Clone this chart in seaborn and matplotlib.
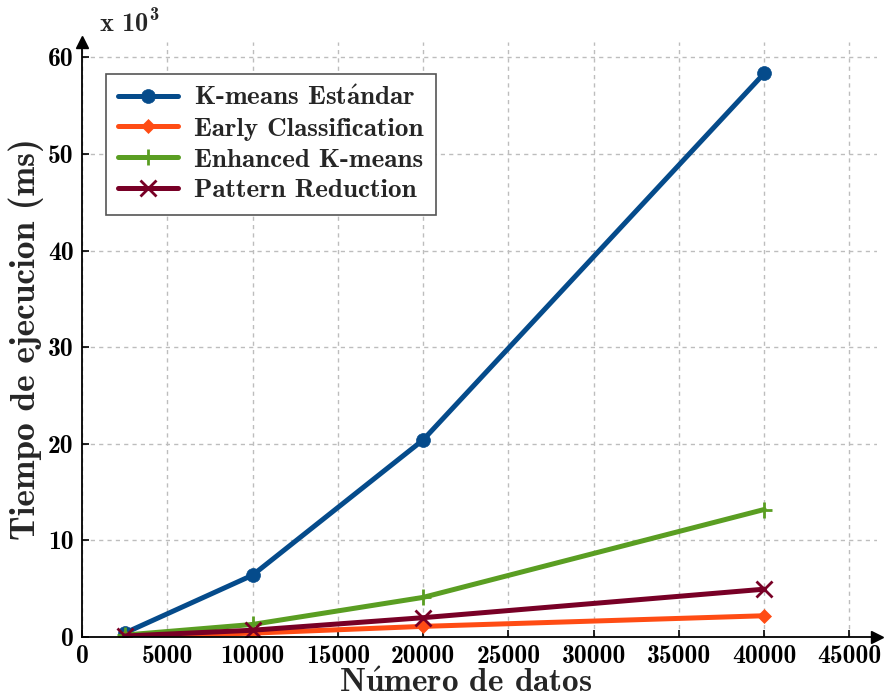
import matplotlib
matplotlib.use("Agg")
import matplotlib.pyplot as plt
import seaborn as sns
import pandas as pd

sns.set_theme(style="white")
plt.rcParams['font.family'] = ['cmb10', 'DejaVu Serif']
plt.rcParams['mathtext.fontset'] = 'custom'
plt.rcParams['mathtext.rm'] = 'cmb10'
plt.rcParams['mathtext.it'] = 'cmb10'
plt.rcParams['mathtext.bf'] = 'cmb10'
plt.rcParams['axes.unicode_minus'] = False

n_datos = [2500, 10000, 20000, 40000]
series_names = [r"K-means Est$\acute{a}$ndar", "Early Classification", "Enhanced K-means", "Pattern Reduction"]
kmeans = [0.4, 6.4, 20.4, 58.35]
early = [0.05, 0.4, 1.1, 2.2]
enhanced = [0.2, 1.3, 4.1, 13.2]
pattern = [0.1, 0.7, 2.0, 4.95]
values = [kmeans, early, enhanced, pattern]

colors = ["#054b8b", "#ff4c14", "#5a9e22", "#780026"]
markers = ["o", "D", "+", "x"]
msizes = [10, 7, 12, 11]
xticks = [0, 5000, 10000, 15000, 20000, 25000, 30000, 35000, 40000, 45000]
yticks = [0, 10, 20, 30, 40, 50, 60]

fig = plt.figure(figsize=(8.91, 7.0), dpi=100)
ax = fig.add_axes([0.092, 0.09, 0.892, 0.85])

for name, vals, c, m, ms in zip(series_names, values, colors, markers, msizes):
    df = pd.DataFrame({"x": n_datos, "y": vals})
    sns.lineplot(data=df, x="x", y="y", ax=ax, color=c, marker=m, markersize=ms,
                 linewidth=3.6, label=name, markeredgecolor=c,
                 markeredgewidth=2 if m in "+x" else 0.5)

ax.set_xlim(0, 46600)
ax.set_ylim(0, 61.6)
ax.set_xticks(xticks)
ax.set_yticks(yticks)
ax.set_xticklabels([str(t) for t in xticks], fontsize=18.5)
ax.set_yticklabels([str(t) for t in yticks], fontsize=18.5)
ax.grid(True, linestyle=(0, (3, 3)), color="#bdbdbd", linewidth=1.0)
ax.tick_params(direction="in", length=5, width=1.2, colors="black", pad=6,
               bottom=True, left=True)
for s in ["top", "right"]:
    ax.spines[s].set_visible(False)
for s in ["left", "bottom"]:
    ax.spines[s].set_color("black")
    ax.spines[s].set_linewidth(1.3)

ax.plot(1, 0, marker=">", color="black", markersize=8, transform=ax.transAxes, clip_on=False)
ax.plot(0, 1, marker="^", color="black", markersize=8, transform=ax.transAxes, clip_on=False)

ax.set_xlabel(r"N$\acute{u}$mero de datos", fontsize=24, labelpad=0)
ax.xaxis.label.set_x(0.483)
ax.set_ylabel("Tiempo de ejecucion (ms)", fontsize=25.5, labelpad=3)
ax.text(0.022, 1.017, r"x 10$^{3}$", transform=ax.transAxes, fontsize=19,
        ha="left", va="baseline")

leg = ax.legend(loc="upper left", bbox_to_anchor=(0.03, 0.947), fontsize=19.5,
                frameon=True, fancybox=False, edgecolor="#555555", framealpha=1,
                handlelength=2.2, borderpad=0.45, labelspacing=0.25, handletextpad=0.6,
                borderaxespad=0)
leg.get_frame().set_linewidth(1.2)

fig.savefig("out.png", dpi=100)
